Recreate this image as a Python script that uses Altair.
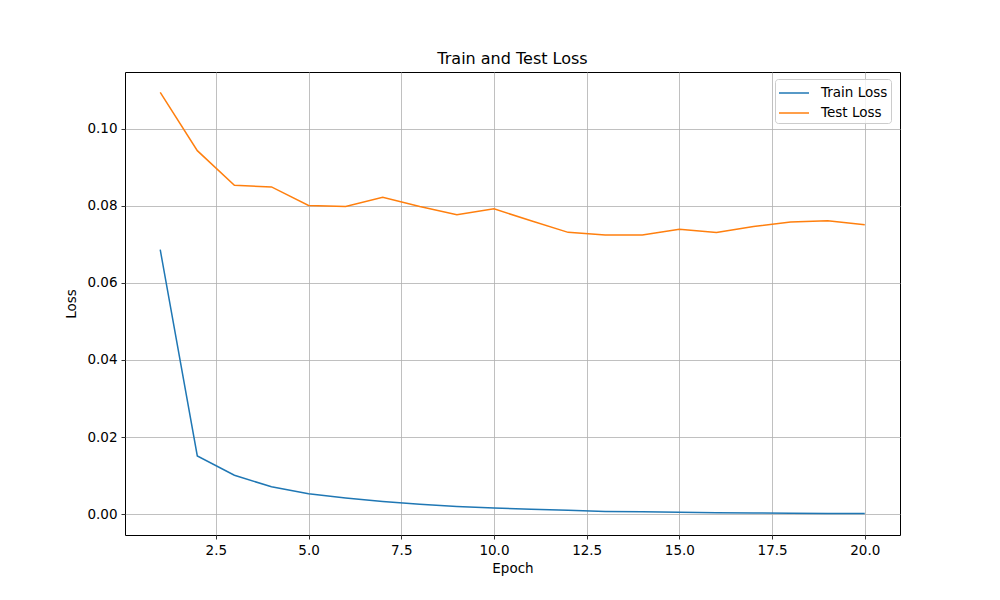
import altair as alt
import pandas as pd

epochs = list(range(1, 21))
train_loss = [0.0686, 0.0151, 0.0101, 0.0071, 0.0053, 0.0042, 0.0033, 0.0026, 0.0020, 0.0016,
              0.0013, 0.0010, 0.0007, 0.0006, 0.0005, 0.0004, 0.0003, 0.00025, 0.0002, 0.00015]
test_loss = [0.1094, 0.0943, 0.0853, 0.0849, 0.0801, 0.0798, 0.0822, 0.0798, 0.0777, 0.0792,
             0.0761, 0.0731, 0.0724, 0.0724, 0.0739, 0.0731, 0.0746, 0.0758, 0.0761, 0.0751]
series_names = ["Train Loss", "Test Loss"]
series_colors = ["#1f77b4", "#ff7f0e"]
x_ticks = [2.5, 5.0, 7.5, 10.0, 12.5, 15.0, 17.5, 20.0]
y_ticks = [0.00, 0.02, 0.04, 0.06, 0.08, 0.10]

rows = []
for e, t in zip(epochs, train_loss):
    rows.append({"Epoch": e, "Loss": t, "Series": series_names[0]})
for e, t in zip(epochs, test_loss):
    rows.append({"Epoch": e, "Loss": t, "Series": series_names[1]})
df = pd.DataFrame(rows)

FONT = "DejaVu Sans"

chart = alt.Chart(df).mark_line(strokeWidth=1.5, clip=True).encode(
    x=alt.X("Epoch:Q", scale=alt.Scale(domain=[0.05, 20.95], nice=False, zero=False),
            axis=alt.Axis(values=x_ticks, format=".1f", title="Epoch")),
    y=alt.Y("Loss:Q", scale=alt.Scale(domain=[-0.0054, 0.1147], nice=False, zero=False),
            axis=alt.Axis(values=y_ticks, format=".2f", title="Loss")),
    color=alt.Color("Series:N",
                    scale=alt.Scale(domain=series_names, range=series_colors),
                    sort=series_names,
                    legend=alt.Legend(title=None, orient="none", legendX=650, legendY=7,
                                      symbolType="M-1.5,0L1.5,0", symbolSize=400,
                                      symbolStrokeWidth=1.5,
                                      labelFont=FONT, labelFontSize=13.5, labelColor="black",
                                      fillColor="rgba(255,255,255,0.8)", strokeColor="#cccccc",
                                      cornerRadius=3, padding=3, rowPadding=2, labelOffset=16,
                                      symbolOffset=5)),
    order=alt.Order("Epoch:Q"),
).properties(
    width=775, height=463,
    title=alt.TitleParams("Train and Test Loss", font=FONT, fontSize=16, fontWeight="normal",
                          color="black", offset=5, anchor="middle"),
    autosize=alt.AutoSizeParams(type="none"),
    padding={"left": 117, "top": 64, "right": 92, "bottom": 57},
).configure_view(
    stroke="black", strokeWidth=1,
).configure_axis(
    grid=True, gridColor="#b0b0b0", gridWidth=0.8,
    domain=False, tickColor="black", tickSize=4, tickWidth=0.8,
    labelFont=FONT, labelFontSize=13.5, labelColor="black", labelPadding=4,
    titleFont=FONT, titleFontSize=13.5, titleFontWeight="normal", titleColor="black",
).configure_axisX(titlePadding=5, labelFlush=False).configure_axisY(titlePadding=8)

chart.save("out.html", embed_options={"renderer": "svg", "actions": False})
